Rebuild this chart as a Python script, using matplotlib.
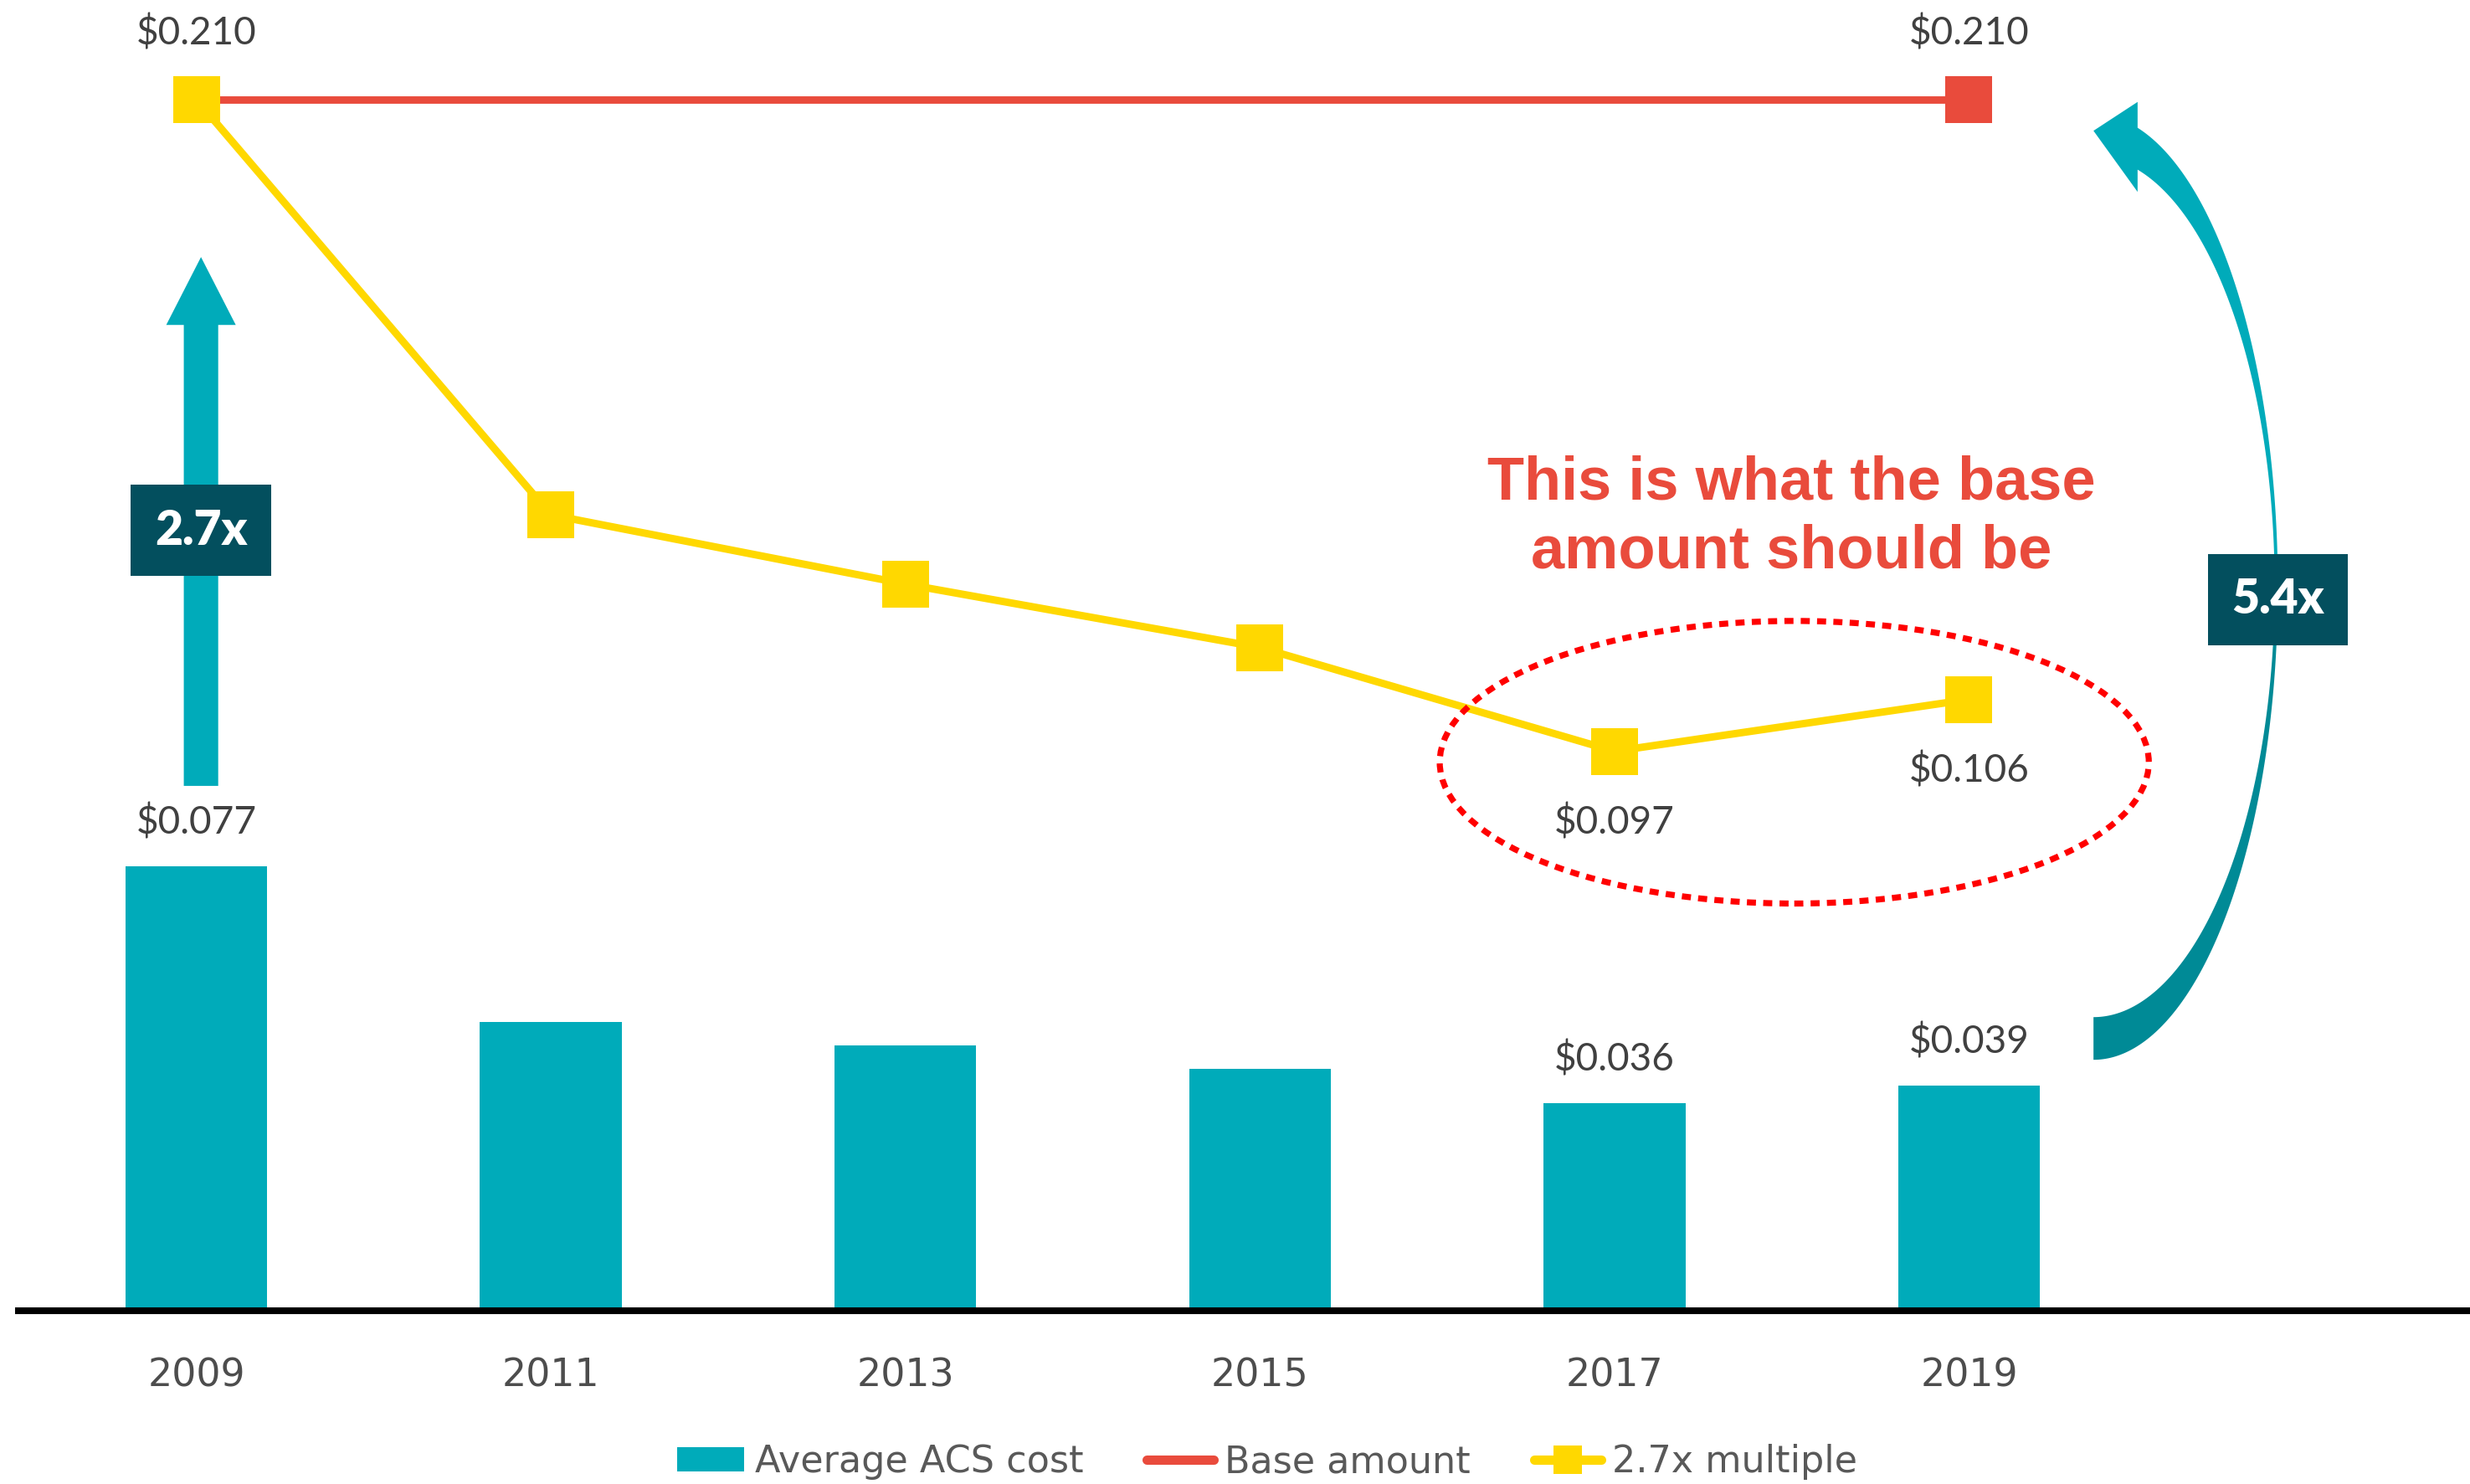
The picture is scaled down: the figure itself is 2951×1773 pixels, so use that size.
import matplotlib
matplotlib.use('Agg')
import matplotlib.pyplot as plt
import numpy as np
from matplotlib.patches import Ellipse, FancyArrowPatch, Patch, ArrowStyle
from matplotlib.lines import Line2D

# ---------------- data ----------------
years = ['2009', '2011', '2013', '2015', '2017', '2019']
avg_acs_cost = [0.077, 0.050, 0.046, 0.042, 0.036, 0.039]
base_amount = [0.210, 0.210, 0.210, 0.210, 0.210, 0.210]
multiple_27 = [0.210, 0.138, 0.126, 0.115, 0.097, 0.106]

bar_label_idx = [0, 4, 5]
base_label_idx = [5]
multiple_above_idx = [0]
multiple_below_idx = [4, 5]

legend_labels = ['Average ACS cost', 'Base amount', '2.7x multiple']
note_text = 'This is what the base\namount should be'
factor_left = '2.7x'
factor_right = '5.4x'

# ---------------- style ----------------
TEAL = '#00ABBA'
TEAL_DARK = '#008A96'
RED = '#E94B3C'
YELLOW = '#FFD800'
BOX = '#034F5E'
TXT = '#404040'
LEG_TXT = '#595959'

W, H, DPI = 2951, 1773, 200
fig = plt.figure(figsize=(W / DPI, H / DPI), dpi=DPI)
ax = fig.add_axes([22 / W, 0.1168, 1 - 22 / W, 0.8833])

x = np.arange(len(years))
ax.bar(x, avg_acs_cost, width=0.4, color=TEAL, zorder=2)
ax.plot(x, base_amount, color=RED, lw=3.2, marker='s', ms=20, mew=0,
        markevery=[0, len(x) - 1], zorder=3, solid_capstyle='butt')
ax.plot(x, multiple_27, color=YELLOW, lw=3.2, marker='s', ms=20, mew=0,
        zorder=4, solid_joinstyle='miter')

ax.set_xlim(-0.502, 6.413)
ax.set_ylim(0, 0.2273)
for s in ['top', 'right', 'left']:
    ax.spines[s].set_visible(False)
ax.spines['bottom'].set_linewidth(2.9)
ax.spines['bottom'].set_color('black')
ax.set_yticks([])
ax.set_xticks(x)
ax.set_xticklabels(years, fontsize=16.5, color='#4D4D4D', family='DejaVu Sans')
ax.tick_params(axis='x', length=0, pad=20)

lab_kw = dict(textcoords='offset points', ha='center', va='center',
              fontsize=16.5, color=TXT, family='Lato', zorder=6)
fmt = lambda v: f'${v:.3f}'
for i in bar_label_idx:
    ax.annotate(fmt(avg_acs_cost[i]), (x[i], avg_acs_cost[i]), xytext=(0, 19), **lab_kw)
for i in base_label_idx:
    ax.annotate(fmt(base_amount[i]), (x[i], base_amount[i]), xytext=(0, 28.5), **lab_kw)
for i in multiple_above_idx:
    ax.annotate(fmt(multiple_27[i]), (x[i], multiple_27[i]), xytext=(0, 28.5), **lab_kw)
for i in multiple_below_idx:
    ax.annotate(fmt(multiple_27[i]), (x[i], multiple_27[i]), xytext=(0, -30.5), **lab_kw)

# ---------------- straight arrow (2.7x) ----------------
ax_x = x[0] + 0.013
arr = FancyArrowPatch((ax_x, 0.091), (ax_x, 0.1827),
                      arrowstyle=ArrowStyle('Simple', head_length=2.92,
                                            head_width=2.99, tail_width=1.48),
                      mutation_scale=10, color=TEAL, lw=0,
                      shrinkA=0, shrinkB=0, zorder=3)
ax.add_patch(arr)
box_kw = dict(ha='center', va='center', color='white', fontsize=20.5,
              family='Lato', fontweight='heavy', zorder=8,
              bbox=dict(boxstyle='square,pad=0.5', fc=BOX, ec='none'))
ax.text(ax_x, 0.1353, factor_left, **box_kw)

# ---------------- curved arrow (5.4x) ----------------
cx, cy = x[5] + 0.351, 0.1255
rxo, ryo = 0.520, 0.0820
rxi, ryi = 0.511, 0.0746
hb = 0.1244  # head base x offset from cx
t_o_end = np.arccos(hb / rxo)
t_i_end = np.arccos(hb / rxi)

# lower (dark) half
to = np.linspace(-np.pi / 2, 0, 120)
ti = np.linspace(0, -np.pi / 2, 120)
low_x = np.concatenate([cx + rxo * np.cos(to), cx + rxi * np.cos(ti)])
low_y = np.concatenate([cy + ryo * np.sin(to), cy + ryi * np.sin(ti)])
ax.fill(low_x, low_y, color=TEAL_DARK, lw=0, zorder=3)

# upper (light) half with head
to = np.linspace(0, t_o_end, 120)
ti = np.linspace(t_i_end, 0, 120)
up_x = np.concatenate([cx + rxo * np.cos(to),
                       [cx + hb, cx, cx + hb],
                       cx + rxi * np.cos(ti)])
up_y = np.concatenate([cy + ryo * np.sin(to),
                       [0.2096, 0.2046, 0.1940],
                       cy + ryi * np.sin(ti)])
ax.fill(up_x, up_y, color=TEAL, lw=0, zorder=3)

ax.text(x[5] + 0.871, 0.1233, factor_right, **box_kw)

# ---------------- note + dotted ellipse ----------------
ax.text(4.498, 0.1375, note_text, ha='center', va='center', color=RED,
        fontsize=26, family='Liberation Sans', fontweight='bold',
        linespacing=1.27, zorder=6)
ell = Ellipse((4.507, 0.0951), width=2.0, height=0.049, fill=False,
              edgecolor='#FF0000', lw=2.6, linestyle=(0, (1.5, 1.2)), zorder=5)
ax.add_patch(ell)

# ---------------- legend ----------------
handles = [Patch(facecolor=TEAL, edgecolor='none'),
           Line2D([], [], color=RED, lw=4, solid_capstyle='round'),
           Line2D([], [], color=YELLOW, lw=4, marker='s', ms=12, mew=0,
                  solid_capstyle='round')]
leg = fig.legend(handles, legend_labels, loc='center', bbox_to_anchor=(0.513, 0.0149),
                 ncol=3, frameon=False, prop=dict(family='DejaVu Sans', size=16),
                 handlelength=1.8, handleheight=0.6, handletextpad=0.3,
                 columnspacing=1.7, borderpad=0, borderaxespad=0)
for t in leg.get_texts():
    t.set_color(LEG_TXT)

fig.savefig('out.png', dpi=DPI, facecolor='white')
